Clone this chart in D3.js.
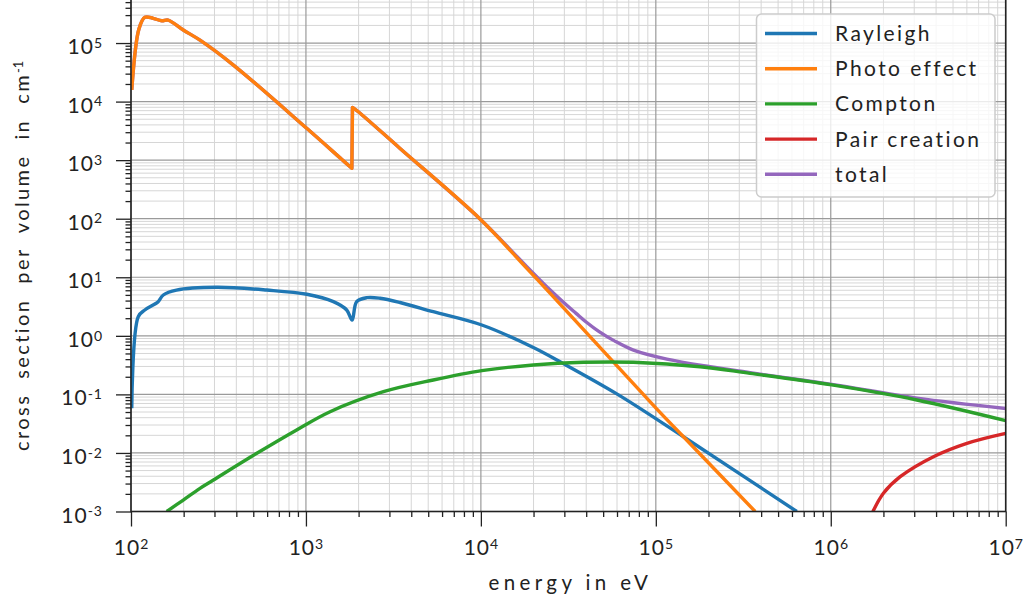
<!DOCTYPE html>
<html>
<head>
<meta charset="utf-8">
<script src="https://cdn.jsdelivr.net/npm/d3@7"></script>
<style>
  body { margin: 0; background: #fff; }
  text { font-family: Lato, "Open Sans", sans-serif; fill: #222; }
</style>
</head>
<body>
<svg id="chart" width="1031" height="603"></svg>
<script>
// energy in eV, cross section per volume in 1/cm
const rayleigh = [
  [101, 0.058], [110, 2.12], [120, 2.76], [137, 3.49], [143, 3.83], [153, 4.98],
  [182, 6.05], [309, 6.75], [597, 6.05], [1012, 5.12], [1435, 3.83], [1710, 2.76],
  [1836, 1.86], [1950, 3.83], [2228, 4.48], [2655, 4.38], [3451, 3.71], [5346, 2.58],
  [10120, 1.53], [19950, 0.631], [28200, 0.363], [59840, 0.102], [143900, 0.0189],
  [639700, 0.001]
];
const photo = [
  [101, 1.58e4], [111, 1.73e5], [120, 2.75e5], [134, 2.64e5], [150, 2.40e5],
  [163, 2.47e5], [199, 1.67e5], [248, 1.12e5], [385, 4.2e4], [1010, 3.5e3],
  [1600, 1035], [1830, 726], [1845, 7980], [2000, 6650], [3451, 1585], [9890, 99],
  [18300, 14.2], [24900, 5.32], [100500, 0.0578], [143900, 0.0189], [369800, 0.001]
];
const compton = [
  [160, 0.001], [199, 0.00157], [248, 0.00249], [296, 0.00345], [524, 0.00986],
  [885, 0.0247], [1374, 0.0506], [2773, 0.111], [5346, 0.176], [10120, 0.254],
  [19950, 0.318], [38550, 0.353], [74470, 0.353], [179100, 0.297], [345900, 0.229],
  [1.014e6, 0.145], [3.105e6, 0.0802], [1e7, 0.0356]
];
const pair = [
  [1.742e6, 0.001], [2.0e6, 0.00205], [2.495e6, 0.00393], [3.864e6, 0.00863],
  [6.0e6, 0.0146], [1e7, 0.0216]
];
const total = [
  [101, 1.58e4], [111, 1.73e5], [120, 2.75e5], [134, 2.64e5], [150, 2.40e5],
  [163, 2.47e5], [199, 1.67e5], [248, 1.12e5], [385, 4.2e4], [1010, 3.5e3],
  [1600, 1035], [1830, 726], [1845, 7980], [2000, 6650], [3451, 1585], [9890, 99],
  [18300, 15.2], [24900, 6.05], [30970, 3.32], [35000, 2.42], [39800, 1.74], [47400, 1.18],
  [58000, 0.82], [74500, 0.57], [115600, 0.40], [204600, 0.296], [345900, 0.235],
  [1.014e6, 0.148], [3.105e6, 0.0865], [1e7, 0.0575]
];
const edgeEnergy = 1845; // Si K edge, drawn as a sharp jump

const seriesNames = ['Rayleigh', 'Photo effect', 'Compton', 'Pair creation', 'total'];
const seriesData = [rayleigh, photo, compton, pair, total];
const colors = ['#1f77b4', '#ff7f0e', '#2ca02c', '#d62728', '#9467bd'];
const drawOrder = [4, 0, 1, 2, 3];

const xTickExp = [2, 3, 4, 5, 6, 7];
const yTickExp = [-3, -2, -1, 0, 1, 2, 3, 4, 5];

const width = 1031, height = 603;
const margin = { left: 131, right: 25.3, top: 0, bottom: 91.5 };

const svg = d3.select('#chart');

const x = d3.scaleLog().domain([1e2, 1e7]).range([margin.left, width - margin.right]);
const y = d3.scaleLog().domain([1e-3, Math.pow(10, 5.735)]).range([height - margin.bottom, margin.top]);

const xMajor = xTickExp.map(e => Math.pow(10, e));
const yMajor = yTickExp.map(e => Math.pow(10, e));
const xMinor = [];
xTickExp.slice(0, -1).forEach(e => { for (let k = 2; k < 10; k++) xMinor.push(k * Math.pow(10, e)); });
const yMinor = [];
yTickExp.forEach(e => {
  for (let k = 2; k < 10; k++) {
    const v = k * Math.pow(10, e);
    if (v <= y.domain()[1]) yMinor.push(v);
  }
});

const x0 = margin.left, x1 = width - margin.right;
const y0 = height - margin.bottom, y1 = margin.top;

// grid
const grid = svg.append('g');
grid.selectAll('.vminor').data(xMinor).join('line')
  .attr('x1', d => x(d)).attr('x2', d => x(d)).attr('y1', y0).attr('y2', y1)
  .attr('stroke', '#d6d6d6').attr('stroke-width', 1);
grid.selectAll('.hminor').data(yMinor).join('line')
  .attr('y1', d => y(d)).attr('y2', d => y(d)).attr('x1', x0).attr('x2', x1)
  .attr('stroke', '#d6d6d6').attr('stroke-width', 1);
grid.selectAll('.vmajor').data(xMajor).join('line')
  .attr('x1', d => x(d)).attr('x2', d => x(d)).attr('y1', y0).attr('y2', y1)
  .attr('stroke', '#9a9a9a').attr('stroke-width', 1.2);
grid.selectAll('.hmajor').data(yMajor).join('line')
  .attr('y1', d => y(d)).attr('y2', d => y(d)).attr('x1', x0).attr('x2', x1)
  .attr('stroke', '#9a9a9a').attr('stroke-width', 1.2);

// curves
svg.append('clipPath').attr('id', 'plotclip')
  .append('rect').attr('x', x0).attr('y', y1).attr('width', x1 - x0).attr('height', y0 - y1);

const smooth = d3.line()
  .x(d => x(d[0]))
  .y(d => y(d[1]))
  .curve(d3.curveCatmullRom.alpha(0.5));

// smooth on both sides of the absorption edge, straight jump across it
function edgePath(data) {
  const before = data.filter(d => d[0] < edgeEnergy);
  const after = data.filter(d => d[0] >= edgeEnergy);
  if (!before.length || !after.length) return smooth(data);
  return smooth(before) + smooth(after).replace(/^M/, 'L');
}

const curves = svg.append('g').attr('clip-path', 'url(#plotclip)');
drawOrder.forEach(i => {
  curves.append('path')
    .datum(seriesData[i])
    .attr('d', (i === 1 || i === 4) ? edgePath : smooth)
    .attr('fill', 'none')
    .attr('stroke', colors[i])
    .attr('stroke-width', 3.4)
    .attr('stroke-linejoin', 'round');
});

// axes
function expLabel(sel, d) {
  const t = d3.select(sel);
  t.text(null);
  t.append('tspan').text('10');
  t.append('tspan').attr('dy', '-0.45em').attr('font-size', 14).text(Math.round(Math.log10(d)));
}

const gx = svg.append('g').attr('transform', `translate(0,${y0})`)
  .call(d3.axisBottom(x).tickValues(xMajor).tickSize(15).tickPadding(14).tickFormat(d => d));
gx.selectAll('.tick text').attr('font-size', 21).attr('letter-spacing', 1)
  .each(function (d) { expLabel(this, d); });
svg.append('g').attr('transform', `translate(0,${y0})`)
  .call(d3.axisBottom(x).tickValues(xMinor).tickSize(5.5).tickFormat(''));

const gy = svg.append('g').attr('transform', `translate(${x0},0)`)
  .call(d3.axisLeft(y).tickValues(yMajor).tickSize(15).tickPadding(13).tickFormat(d => d));
gy.selectAll('.tick text').attr('font-size', 21).attr('letter-spacing', 1).attr('dy', '0.5em')
  .each(function (d) { expLabel(this, d); });
svg.append('g').attr('transform', `translate(${x0},0)`)
  .call(d3.axisLeft(y).tickValues(yMinor).tickSize(5.5).tickFormat(''));

svg.selectAll('.domain').remove();
svg.selectAll('.tick line').attr('stroke', '#222').attr('stroke-width', 1.3);

// frame
svg.append('rect')
  .attr('x', x0).attr('y', y1 - 2).attr('width', x1 - x0).attr('height', y0 - y1 + 2)
  .attr('fill', 'none').attr('stroke', '#222').attr('stroke-width', 1.6);

// axis labels
svg.append('text')
  .attr('x', (x0 + x1) / 2 + 2).attr('y', 590)
  .attr('text-anchor', 'middle').attr('font-size', 20.5).attr('letter-spacing', 4.4)
  .text('energy in eV');

const yl = svg.append('text')
  .attr('transform', `translate(29,${(y0 + y1) / 2}) rotate(-90)`)
  .attr('text-anchor', 'middle').attr('font-size', 20).attr('letter-spacing', 2.4)
  .style('white-space', 'pre');
yl.append('tspan').text('cross  section  per  volume  in  cm');
yl.append('tspan').attr('dy', '-0.5em').attr('font-size', 13).attr('letter-spacing', 0).text('-1');

// legend
const legend = svg.append('g');
legend.append('rect')
  .attr('x', 756.5).attr('y', 14).attr('width', 238.5).attr('height', 183)
  .attr('rx', 5).attr('fill', 'rgba(255,255,255,0.8)')
  .attr('stroke', '#cccccc').attr('stroke-width', 1.5);
const rows = legend.selectAll('.row').data(seriesNames).join('g')
  .attr('transform', (d, i) => `translate(0,${33.5 + i * 35.2})`);
rows.append('line')
  .attr('x1', 765).attr('x2', 817).attr('y1', 0).attr('y2', 0)
  .attr('stroke', (d, i) => colors[i]).attr('stroke-width', 3.4);
rows.append('text')
  .attr('x', 835).attr('y', 0).attr('dy', '0.36em')
  .attr('font-size', 21).attr('letter-spacing', 2.4)
  .text(d => d);
</script>
</body>
</html>
